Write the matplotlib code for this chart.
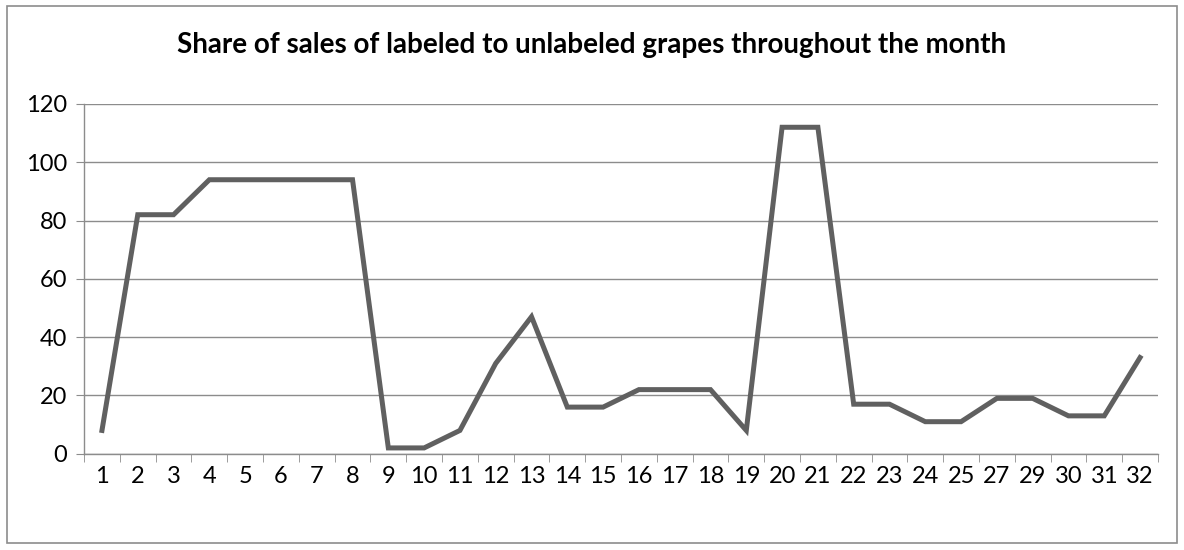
import numpy as np
import matplotlib.pyplot as plt
from matplotlib.patches import Rectangle

days = ['1', '2', '3', '4', '5', '6', '7', '8', '9', '10', '11', '12', '13', '14', '15',
        '16', '17', '18', '19', '20', '21', '22', '23', '24', '25', '27', '29', '30', '31', '32']
share = [8, 82, 82, 94, 94, 94, 94, 94, 2, 2, 8, 31, 47, 16, 16,
         22, 22, 22, 8, 112, 112, 17, 17, 11, 11, 19, 19, 13, 13, 33]

plt.rcParams['font.family'] = ['Lato', 'DejaVu Sans']

fig = plt.figure(figsize=(11.84, 5.5), dpi=100)
ax = fig.add_axes([0.071, 0.175, 0.907, 0.636])

x = np.arange(len(days)) + 0.5
ax.plot(x, share, color='#606060', linewidth=3.6, solid_joinstyle='miter', zorder=3)

ax.set_xlim(0, len(days))
ax.set_ylim(0, 120)
ax.set_yticks(range(0, 121, 20))
ax.set_xticks(x)
ax.set_xticklabels(days)
ax.set_xticks(np.arange(len(days) + 1), minor=True)
ax.tick_params(axis='x', which='major', length=0, pad=9, labelsize=17)
ax.tick_params(axis='x', which='minor', length=6, color='#8c8c8c', direction='out')
ax.tick_params(axis='y', length=6, color='#8c8c8c', labelsize=17, pad=6)

ax.grid(axis='y', color='#8c8c8c', linewidth=1.0)
ax.set_axisbelow(True)
for side in ['top', 'right']:
    ax.spines[side].set_visible(False)
for side in ['left', 'bottom']:
    ax.spines[side].set_color('#8c8c8c')
    ax.spines[side].set_linewidth(1.0)

fig.text(0.5, 0.918, 'Share of sales of labeled to unlabeled grapes throughout the month',
         ha='center', va='center', fontsize=20, fontweight='bold')

fig.patches.append(Rectangle((0.006, 0.012), 0.988, 0.978, transform=fig.transFigure,
                             fill=False, edgecolor='#8c8c8c', linewidth=1.2))

fig.savefig('out.png')
